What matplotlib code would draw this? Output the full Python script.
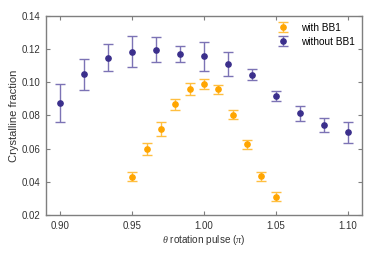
import matplotlib
matplotlib.use("Agg")
import matplotlib.pyplot as plt
import numpy as np

# with BB1 (orange)
theta_bb1 = [0.95, 0.96, 0.97, 0.98, 0.99, 1.00, 1.01, 1.02, 1.03, 1.04, 1.05]
frac_bb1 = [0.0432, 0.0599, 0.0718, 0.0866, 0.0960, 0.0990, 0.0958, 0.0804, 0.0626, 0.0434, 0.0312]
err_bb1 = [0.0027, 0.0037, 0.0040, 0.0033, 0.0035, 0.0032, 0.0028, 0.0026, 0.0027, 0.0028, 0.0026]

# without BB1 (purple)
theta_plain = [0.900, 0.9167, 0.9333, 0.950, 0.9667, 0.9833, 1.000,
               1.0167, 1.0333, 1.050, 1.0667, 1.0833, 1.100]
frac_plain = [0.0876, 0.1048, 0.1148, 0.1184, 0.1194, 0.1168, 0.1155,
              0.1112, 0.1046, 0.0917, 0.0813, 0.0744, 0.0699]
err_plain = [0.0116, 0.0094, 0.0080, 0.0092, 0.0075, 0.0048, 0.0085,
             0.0072, 0.0031, 0.0032, 0.0045, 0.0041, 0.0062]

xticks = [0.90, 0.95, 1.00, 1.05, 1.10]
yticks = [0.02, 0.04, 0.06, 0.08, 0.10, 0.12, 0.14]


def main():
    plt.rcParams['font.family'] = ['Liberation Sans', 'DejaVu Sans']
    plt.rcParams['mathtext.fontset'] = 'custom'
    plt.rcParams['mathtext.it'] = 'Liberation Serif:italic'

    fig = plt.figure(figsize=(3.74, 2.56), dpi=100)
    ax = fig.add_axes([0.123, 0.159, 0.845, 0.78])

    ax.errorbar(theta_bb1, frac_bb1, yerr=err_bb1, fmt='o', ms=3.8,
                color='#FFA500', ecolor='#FFBF40', elinewidth=1.0,
                capsize=3.5, capthick=1.0, label='with BB1')
    ax.errorbar(theta_plain, frac_plain, yerr=err_plain, fmt='o', ms=3.8,
                color='#3B2F8C', ecolor='#7C73B5', elinewidth=1.0,
                capsize=3.5, capthick=1.0, label='without BB1')

    ax.set_xlim(0.89, 1.11)
    ax.set_ylim(0.02, 0.14)
    ax.set_xticks(xticks)
    ax.set_xticklabels(['%.2f' % t for t in xticks])
    ax.set_yticks(yticks)
    ax.set_yticklabels(['%.2f' % t for t in yticks])

    for sp in ax.spines.values():
        sp.set_color('#7f7f7f')
        sp.set_linewidth(1.0)
    ax.tick_params(direction='in', top=True, right=True, length=3,
                   color='#7f7f7f', labelsize=7, labelcolor='#333333', pad=4)

    ax.set_xlabel(r'$\theta$ rotation pulse ($\pi$)', fontsize=7.2, color='#333333', labelpad=1.5)
    ax.set_ylabel('Crystalline fraction', fontsize=8, color='#333333', labelpad=2)

    ax.legend(loc='upper right', frameon=False, fontsize=7.2, handlelength=1.2,
              borderaxespad=0.3, labelspacing=0.4, handletextpad=1.2)

    fig.savefig('out.png', dpi=100)


if __name__ == '__main__':
    main()
